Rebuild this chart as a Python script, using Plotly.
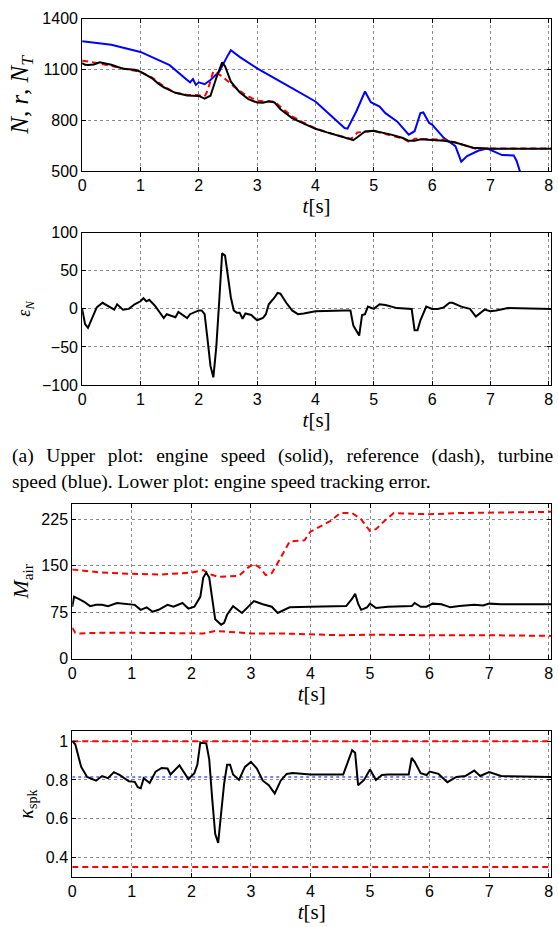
import plotly.graph_objects as go

# ---------------- data ----------------
# Plot 1: engine speed N (black), reference r (red dash), turbine speed N_T (blue)
t_N = [0, 0.05, 0.1, 0.2, 0.3, 0.5, 0.7, 0.9, 1.0, 1.1, 1.2, 1.3, 1.4, 1.5, 1.6, 1.8, 2.0, 2.1, 2.2, 2.3,
       2.4, 2.45, 2.55, 2.7, 2.85, 3.0, 3.1, 3.2, 3.3, 3.4, 3.6, 3.8, 4.0, 4.2, 4.4, 4.5, 4.65, 4.75,
       4.85, 5.0, 5.3, 5.5, 5.6, 5.7, 5.8, 6.0, 6.2, 6.4, 6.5, 6.7, 7.0, 7.5, 8.05]
N = [1138, 1128, 1126, 1130, 1143, 1128, 1105, 1098, 1087, 1068, 1048, 1018, 995, 978, 962, 946, 944, 928, 945, 1050,
     1142, 1120, 1028, 966, 925, 905, 903, 912, 905, 865, 813, 780, 750, 728, 710, 698, 682, 708,
     733, 738, 715, 695, 678, 678, 688, 683, 678, 668, 657, 637, 632, 631, 631]
t_r = [0, 0.05, 0.3, 0.5, 0.7, 1.0, 1.2, 1.4, 1.6, 1.8, 2.0, 2.1, 2.15, 2.25, 2.4, 2.6, 2.8, 3.0, 3.1, 3.3,
       3.4, 3.6, 3.8, 4.0, 4.2, 4.4, 4.6, 4.65, 4.72, 5.0, 5.3, 5.5, 5.62, 5.7, 5.8, 6.2, 6.4, 6.6, 6.75, 7.0, 8.05]
r = [1152, 1150, 1135, 1122, 1105, 1085, 1052, 1000, 962, 950, 948, 940, 975, 1090, 1060, 1000, 950, 915, 912, 910,
     880, 823, 785, 752, 728, 708, 690, 700, 728, 736, 712, 692, 668, 690, 690, 685, 668, 645, 632, 633, 633]
t_NT = [0, 0.5, 1.0, 1.5, 1.8, 1.85, 1.9, 1.95, 2.0, 2.1, 2.2, 2.35, 2.5, 2.55, 2.7, 3.0, 3.5, 4.0, 4.5, 4.55,
        4.7, 4.85, 4.95, 5.1, 5.2, 5.4, 5.6, 5.7, 5.8, 5.85, 5.95, 6.0, 6.2, 6.4, 6.5, 6.6, 6.8, 6.95, 7.2, 7.4,
        7.45, 7.55]
NT = [1267, 1247, 1204, 1126, 1038, 1024, 1044, 1009, 1024, 1013, 1038, 1087, 1185, 1214, 1175, 1107, 1009, 911, 754, 750,
      852, 970, 907, 881, 842, 793, 715, 735, 842, 846, 784, 774, 696, 647, 555, 588, 621, 633, 594, 592,
      559, 450]

# Plot 2: engine speed tracking error
t_e = [0, 0.05, 0.1, 0.25, 0.35, 0.45, 0.55, 0.6, 0.7, 0.8, 0.9, 1.0, 1.05, 1.1, 1.15, 1.25, 1.35, 1.4, 1.45,
       1.55, 1.6, 1.65, 1.75, 1.8, 1.85, 1.9, 2.0, 2.05, 2.1, 2.15, 2.2, 2.25, 2.3, 2.35, 2.4, 2.45, 2.5, 2.55,
       2.6, 2.65, 2.7, 2.75, 2.8, 2.9, 3.0, 3.1, 3.15, 3.2, 3.3, 3.35, 3.4, 3.5, 3.6, 3.7, 3.8, 4.0, 4.5, 4.6,
       4.65, 4.75, 4.8, 4.85, 4.9, 5.0, 5.1, 5.2, 5.4, 5.65, 5.7, 5.75, 5.8, 5.9, 6.0, 6.1, 6.2, 6.3, 6.35,
       6.5, 6.65, 6.75, 6.9, 7.0, 7.1, 7.3, 8.05]
eN = [0, -20, -25, 2, 8, 3, -1, 6, -1, 0, 6, 10, 14, 10, 12, 4, -7, -12, -7,
      -9, -11, -4, -10, -12, -7, -5, -2, -2, -7, -40, -75, -90, -50, 10, 73, 70, 40, 15,
      -2, -5, -5, -13, -6, -8, -15, -12, -7, 6, 15, 21, 20, 8, -2, -7, -6, -3, -2, -2,
      -22, -35, -8, -7, 3, 0, 6, 5, 1, 0, -28, -28, -15, 3, 0, 0, 2, 8, 8,
      3, 0, -10, -1, -3, -2, 1, 0]

# Plot 3: M_air and its bounds
t_M = [0, 0.03, 0.1, 0.2, 0.3, 0.4, 0.5, 0.6, 0.75, 0.9, 1.05, 1.15, 1.25, 1.35, 1.45, 1.6, 1.7, 1.85, 1.95,
       2.05, 2.15, 2.2, 2.25, 2.3, 2.35, 2.4, 2.5, 2.55, 2.6, 2.7, 2.85, 2.95, 3.05, 3.2, 3.35, 3.45, 3.55,
       3.65, 4.0, 4.6, 4.7, 4.75, 4.8, 4.85, 4.95, 5.0, 5.1, 5.3, 5.7, 5.75, 5.85, 5.95, 6.05, 6.2, 6.35,
       6.5, 6.75, 6.9, 7.0, 7.2, 8.05]
M = [84, 100, 97, 92, 85, 87, 87, 85, 90, 88, 87, 79, 83, 76, 79, 87, 84, 90, 81,
     84, 100, 131, 139, 131, 100, 64, 55, 58, 71, 85, 74, 84, 93, 88, 84, 74, 79,
     83, 84, 85, 97, 105, 89, 79, 83, 89, 82, 84, 85, 90, 84, 84, 89, 88, 83,
     85, 87, 86, 89, 88, 88]
t_Mhi = [0, 0.5, 1.0, 1.5, 2.0, 2.2, 2.3, 2.45, 2.8, 2.95, 3.05, 3.15, 3.25, 3.35, 3.5, 3.65, 3.9, 4.0, 4.2,
         4.35, 4.5, 4.7, 4.85, 5.0, 5.1, 5.25, 5.4, 6.0, 6.5, 8.05]
Mhi = [144, 139, 137, 136, 139, 143, 137, 132, 134, 147, 153, 147, 135, 138, 163, 189, 191, 205, 215,
       223, 235, 235, 225, 206, 209, 223, 235, 233, 235, 237]
t_Mlo = [0, 0.05, 0.1, 0.5, 1.0, 2.2, 2.4, 2.8, 3.0, 3.5, 4.0, 4.5, 5.0, 5.5, 6.0, 7.0, 8.05]
Mlo = [50, 42, 41, 42, 42, 41, 45, 43, 41, 41, 39, 38, 39, 38, 38, 38, 37]

# Plot 4: kappa_spk and bounds
t_k = [0, 0.05, 0.15, 0.25, 0.4, 0.5, 0.6, 0.7, 0.8, 0.95, 1.05, 1.1, 1.15, 1.2, 1.3, 1.4, 1.5, 1.6, 1.65,
       1.8, 1.95, 2.05, 2.1, 2.15, 2.25, 2.3, 2.35, 2.4, 2.45, 2.5, 2.55, 2.6, 2.65, 2.7, 2.8, 2.9, 3.0,
       3.1, 3.2, 3.3, 3.4, 3.5, 3.6, 3.7, 4.0, 4.55, 4.65, 4.7, 4.75, 4.8, 4.9, 5.0, 5.1, 5.2, 5.3, 5.65,
       5.7, 5.75, 5.85, 5.95, 6.0, 6.15, 6.3, 6.45, 6.6, 6.75, 6.85, 7.0, 7.2, 8.05]
kspk = [1.0, 0.984, 0.867, 0.815, 0.796, 0.82, 0.809, 0.84, 0.825, 0.793, 0.79, 0.762, 0.757, 0.809, 0.784,
        0.843, 0.862, 0.859, 0.828, 0.875, 0.804, 0.835, 0.878, 0.992, 0.989, 0.906, 0.702, 0.522, 0.475,
        0.624, 0.781, 0.878, 0.878, 0.828, 0.8, 0.867, 0.893, 0.859, 0.796, 0.773, 0.73, 0.796, 0.831, 0.836,
        0.828, 0.828, 0.906, 0.953, 0.94, 0.773, 0.8, 0.854, 0.8, 0.825, 0.828, 0.828, 0.914, 0.893, 0.835,
        0.825, 0.843, 0.831, 0.788, 0.815, 0.82, 0.848, 0.82, 0.84, 0.82, 0.815]
t_bounds = [0, 8.05]
k_hi = [1.0, 1.0]
k_lo = [0.35, 0.35]
k_nom = [0.815, 0.815]

x_ticks = [0, 1, 2, 3, 4, 5, 6, 7, 8]
y1_ticks = [500, 800, 1100, 1400]
y2_ticks = [-100, -50, 0, 50, 100]
y3_ticks = [0, 75, 150, 225]
y4_ticks = [0.4, 0.6, 0.8, 1]

caption_1 = "(a) Upper plot: engine speed (solid), reference (dash), turbine"
caption_2 = "speed (blue). Lower plot: engine speed tracking error."

# ---------------- figure ----------------
W, H = 558, 927
BLACK = "#000000"
RED = "#ff0000"
BLUE = "#0000ff"

fig = go.Figure()

def add(x, y, ax, color, dash="solid", width=2):
    fig.add_trace(go.Scatter(x=x, y=y, mode="lines", xaxis="x" + ax, yaxis="y" + ax,
                             line=dict(color=color, dash=dash, width=width), showlegend=False,
                             hoverinfo="skip"))

add(t_NT, NT, "", BLUE)
add(t_r, r, "", RED, "6px,4px")
add(t_N, N, "", BLACK)
add(t_e, eN, "2", BLACK)
add(t_Mhi, Mhi, "3", RED, "6px,4px")
add(t_Mlo, Mlo, "3", RED, "6px,4px")
add(t_M, M, "3", BLACK)
add(t_bounds, k_nom, "4", BLUE, "dot", 1)
add(t_bounds, k_hi, "4", RED, "6px,4px")
add(t_bounds, k_lo, "4", RED, "6px,4px")
add(t_k, kspk, "4", BLACK)

def ydom(top, bot):
    return [1 - bot / H, 1 - top / H]

SERIF = "Liberation Serif, Times New Roman, serif"
tickfont = dict(family="Liberation Sans, Arial, sans-serif", size=16, color="black")

common_axis = dict(showline=True, linecolor="black", linewidth=1, mirror="ticks",
                   ticks="inside", ticklen=4, tickcolor="black", tickwidth=1,
                   showgrid=True, gridcolor="#8a8a8a", griddash="dot", gridwidth=1,
                   zeroline=False, tickfont=tickfont)

def xaxis(dom, anchor):
    return dict(common_axis, domain=dom, anchor=anchor, range=[0, 8.04],
                tickvals=x_ticks, ticktext=[str(v) for v in x_ticks],
                title=dict(text="<i>t</i>[s]", font=dict(family=SERIF, size=21, color="black"),
                           standoff=0))

def yaxis(dom, anchor, rng, ticks, title, size, tfmt=None):
    return dict(common_axis, domain=dom, anchor=anchor, range=rng,
                tickvals=ticks, ticktext=[tfmt(v) if tfmt else str(v) for v in ticks],
                title=dict(text=title, font=dict(family=SERIF, size=size, color="black"), standoff=6))

xd12 = [79 / W, 553 / W]
xd34 = [69 / W, 553 / W]

def justify(s):
    return s.replace(" ", " \u2009\u2009")

capfont = dict(family=SERIF, size=19.5, color="black")

fig.update_layout(
    width=W, height=H, margin=dict(l=0, r=0, t=0, b=0),
    paper_bgcolor="white", plot_bgcolor="white",
    xaxis=xaxis(xd12, "y"),
    yaxis=yaxis(ydom(11, 166), "x", [500, 1400], y1_ticks,
                "<i>N</i>, <i>r</i>, <i>N</i><sub><i>T</i></sub>", 25),
    xaxis2=xaxis(xd12, "y2"),
    yaxis2=yaxis(ydom(229, 384), "x2", [-100, 100], y2_ticks,
                 "<i>ε</i><sub><i>N</i></sub>", 18,
                 lambda v: str(v).replace("-", "\u2212")),
    xaxis3=xaxis(xd34, "y3"),
    yaxis3=yaxis(ydom(505, 663), "x3", [0, 250], y3_ticks, "<i>M</i><sub>air</sub>", 22),
    xaxis4=xaxis(xd34, "y4"),
    yaxis4=yaxis(ydom(737, 885), "x4", [0.3, 1.05], y4_ticks, "<i>κ</i><sub>spk</sub>", 20,
                 lambda v: ("%g" % v)),
    annotations=[
        dict(text=justify(caption_1), x=6 / W, y=1 - 456 / H, xref="paper", yref="paper",
             xanchor="left", yanchor="middle", showarrow=False, font=capfont),
        dict(text=caption_2, x=6 / W, y=1 - 483 / H, xref="paper", yref="paper",
             xanchor="left", yanchor="middle", showarrow=False, font=capfont),
    ],
)

fig.write_html("out.html")
